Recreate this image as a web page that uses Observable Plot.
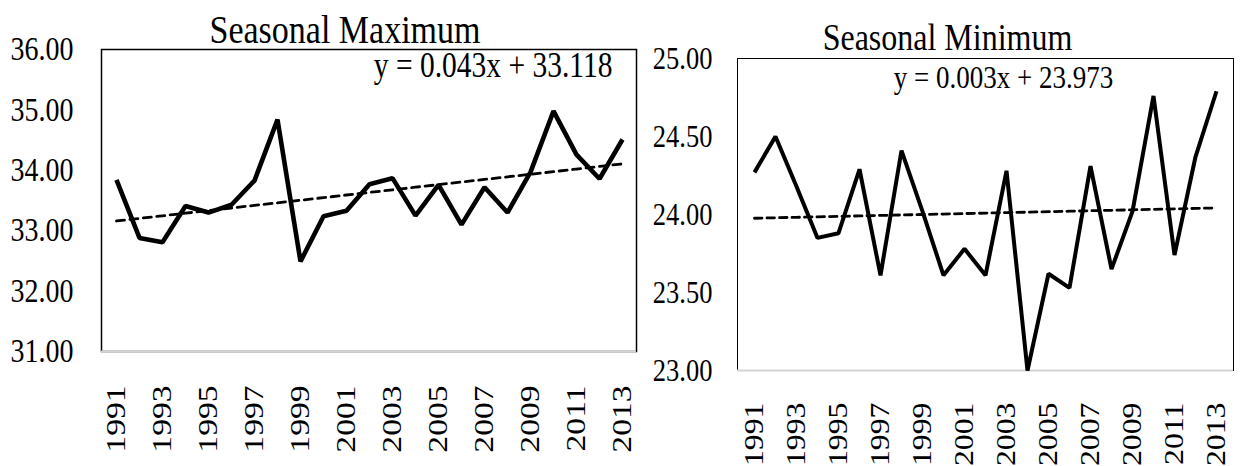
<!DOCTYPE html>
<html>
<head>
<meta charset="utf-8">
<script src="https://cdn.jsdelivr.net/npm/d3@7"></script>
<script src="https://cdn.jsdelivr.net/npm/@observablehq/plot@0.6"></script>
<style>
  html, body { margin: 0; padding: 0; background: #fff; }
  #wrap { position: relative; width: 1242px; height: 466px; overflow: hidden; background: #fff; }
  #left { position: absolute; left: 0; top: 0; }
  #right { position: absolute; left: 640px; top: 0; }
  #wrap svg text { font-family: "Liberation Serif", "Times New Roman", serif; }
</style>
</head>
<body>
<div id="wrap">
  <div id="left"></div>
  <div id="right"></div>
</div>
<script>
// Years of record
const years = [1991, 1992, 1993, 1994, 1995, 1996, 1997, 1998, 1999, 2000, 2001, 2002,
               2003, 2004, 2005, 2006, 2007, 2008, 2009, 2010, 2011, 2012, 2013];

// Seasonal maximum temperature (°C)
const seasonalMax = [33.84, 32.88, 32.81, 33.41, 33.30, 33.43, 33.83, 34.84, 32.49, 33.24, 33.33, 33.77,
                     33.87, 33.25, 33.76, 33.10, 33.72, 33.30, 33.97, 34.98, 34.26, 33.86, 34.51];

// Seasonal minimum temperature (°C)
const seasonalMin = [24.27, 24.50, 24.18, 23.85, 23.88, 24.29, 23.61, 24.41, 24.02, 23.61, 23.78, 23.61,
                     24.28, 23.00, 23.62, 23.53, 24.31, 23.65, 24.02, 24.76, 23.74, 24.37, 24.79];

// Linear trend coefficients (x = 1 for the first year)
const maxSlope = 0.043, maxIntercept = 33.118;
const minSlope = 0.003, minIntercept = 23.973;

// Axis ticks
const xTicks = [1991, 1993, 1995, 1997, 1999, 2001, 2003, 2005, 2007, 2009, 2011, 2013];
const maxYTicks = [31, 32, 33, 34, 35, 36];
const minYTicks = [23, 23.5, 24, 24.5, 25];

const FONT = "Liberation Serif";
const STRETCH = 1.2; // tall, narrow lettering

function stretchText(svg) {
  d3.select(svg).selectAll("text").each(function () {
    const t = d3.select(this);
    let tr = t.attr("transform");
    if (!tr) {
      const x = +(t.attr("x") || 0), y = +(t.attr("y") || 0);
      t.attr("x", null).attr("y", null);
      tr = `translate(${x},${y})`;
    }
    const rotated = /rotate\(\s*-?\d/.test(tr) && !/rotate\(\s*0\s*\)/.test(tr);
    t.attr("transform", tr + (rotated ? ` scale(${STRETCH},1)` : ` scale(1,${STRETCH})`));
  });
}

function panel(opts) {
  const trend = years.map((_, i) => opts.slope * (i + 1) + opts.intercept);
  const svg = Plot.plot({
    width: opts.width,
    height: 466,
    marginLeft: opts.marginLeft,
    marginRight: opts.marginRight,
    marginTop: opts.marginTop,
    marginBottom: opts.marginBottom,
    style: { fontFamily: FONT, color: "#000", background: "#fff", overflow: "visible" },
    x: { type: "point", domain: years, padding: 0.5 },
    y: { domain: opts.yDomain },
    marks: [
      Plot.frame({ stroke: "#000", strokeWidth: opts.frameWidth }),
      Plot.ruleY([opts.yDomain[0]], { stroke: "#d4d4d4", strokeWidth: 2 }),
      Plot.axisY({
        ticks: opts.yTicks, tickFormat: (d) => d.toFixed(2), tickSize: 0,
        tickPadding: opts.yPad, fontSize: opts.tickFont, fontFamily: FONT, label: null
      }),
      Plot.axisX({
        ticks: xTicks, tickFormat: (d) => String(d), tickSize: 0, tickRotate: -90,
        textAnchor: "end", tickPadding: opts.xPad, fontSize: opts.tickFont, fontFamily: FONT, label: null
      }),
      Plot.line(years, {
        x: (d) => d, y: (d, i) => trend[i], stroke: "#000",
        strokeWidth: opts.trendWidth, strokeDasharray: opts.dash
      }),
      Plot.line(years, {
        x: (d) => d, y: (d, i) => opts.values[i], stroke: "#000",
        strokeWidth: opts.lineWidth, strokeLinejoin: "miter", strokeLinecap: "butt"
      }),
      Plot.text([opts.title], {
        frameAnchor: "top", lineAnchor: "bottom", dx: opts.titleDx, dy: opts.titleDy,
        fontSize: opts.titleFont, fontFamily: FONT, fill: "#000"
      }),
      Plot.text([opts.equation], {
        frameAnchor: opts.eqAnchor, textAnchor: opts.eqTextAnchor, lineAnchor: "bottom",
        dx: opts.eqDx, dy: opts.eqDy, fontSize: opts.eqFont, fontFamily: FONT, fill: "#000"
      })
    ]
  });
  stretchText(svg);
  return svg;
}

document.getElementById("left").appendChild(panel({
  width: 640, marginLeft: 101, marginRight: 4, marginTop: 49, marginBottom: 115,
  yDomain: [31, 36], yTicks: maxYTicks, values: seasonalMax,
  slope: maxSlope, intercept: maxIntercept,
  frameWidth: 1.5, lineWidth: 4.6, trendWidth: 2.8, dash: "8,5.5",
  tickFont: 28, yPad: 28, xPad: 34,
  title: "Seasonal Maximum", titleFont: 34, titleDx: -24, titleDy: -7,
  equation: `y = ${maxSlope.toFixed(3)}x + ${maxIntercept.toFixed(3)}`,
  eqAnchor: "top-right", eqTextAnchor: "end", eqDx: -24, eqDy: 27, eqFont: 29.5
}));

document.getElementById("right").appendChild(panel({
  width: 602, marginLeft: 97, marginRight: 9, marginTop: 58, marginBottom: 96,
  yDomain: [23, 25], yTicks: minYTicks, values: seasonalMin,
  slope: minSlope, intercept: minIntercept,
  frameWidth: 1, lineWidth: 4, trendWidth: 2.8, dash: "7.5,5",
  tickFont: 26.5, yPad: 25, xPad: 32,
  title: "Seasonal Minimum", titleFont: 32, titleDx: -38, titleDy: -9,
  equation: `y = ${minSlope.toFixed(3)}x + ${minIntercept.toFixed(3)}`,
  eqAnchor: "top", eqTextAnchor: "middle", eqDx: 18, eqDy: 29, eqFont: 27
}));
</script>
</body>
</html>
